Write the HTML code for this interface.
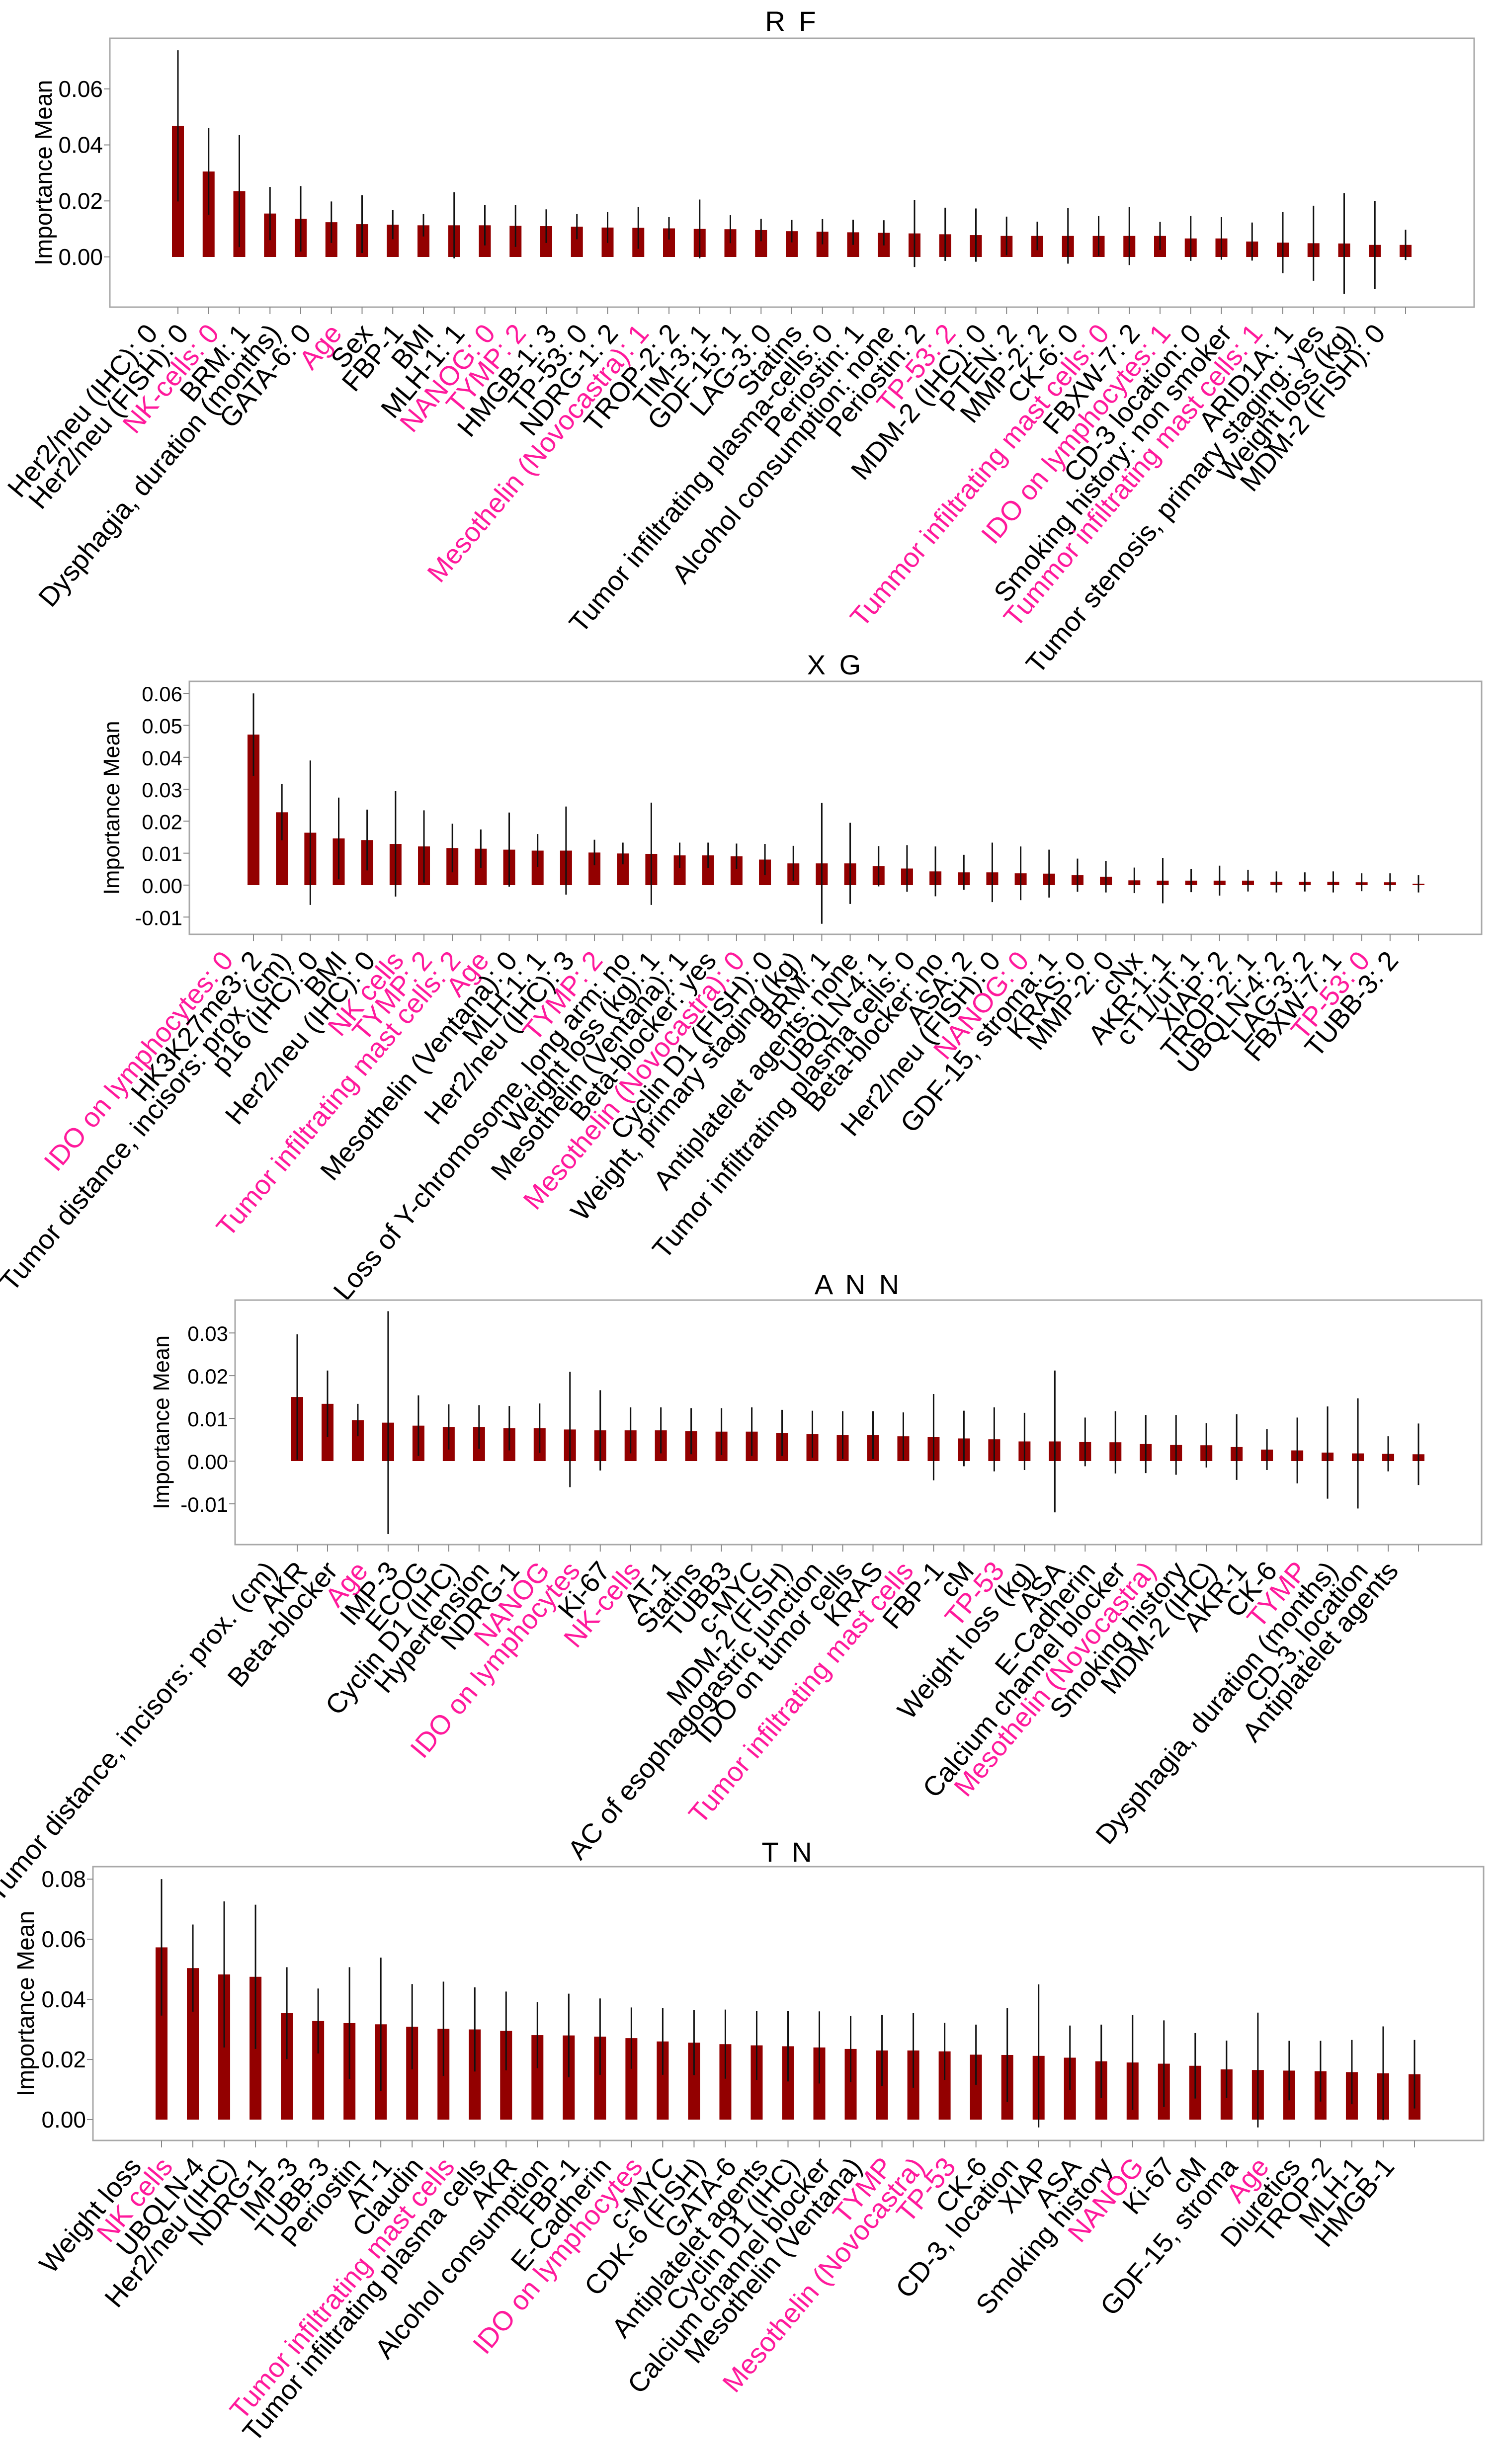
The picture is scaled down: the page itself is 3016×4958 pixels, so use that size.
<!DOCTYPE html>
<html><head><meta charset="utf-8">
<style>
html,body{margin:0;padding:0;background:#fff;}
svg{display:block;font-family:"Liberation Sans",Arial,sans-serif;}
</style></head>
<body>
<svg id="fig" width="3016" height="4958" viewBox="0 0 3016 4958" xmlns="http://www.w3.org/2000/svg"></svg>
<script>
// ---------- RF ----------
const rfLabels = ["Her2/neu (IHC): 0","Her2/neu (FISH): 0","NK-cells: 0","BRM: 1","Dysphagia, duration (months)","GATA-6: 0","Age","Sex","FBP-1","BMI","MLH-1: 1","NANOG: 0","TYMP: 2","HMGB-1: 3","TP-53: 0","NDRG-1: 2","Mesothelin (Novocastra): 1","TROP-2: 2","TIM-3: 1","GDF-15: 1","LAG-3: 0","Statins","Tumor infiltrating plasma-cells: 0","Periostin: 1","Alcohol consumption: none","Periostin: 2","TP-53: 2","MDM-2 (IHC): 0","PTEN: 2","MMP-2: 2","CK-6: 0","Tummor infiltrating mast cells: 0","FBXW-7: 2","IDO on lymphocytes: 1","CD-3 location: 0","Smoking history: non smoker","Tummor infiltrating mast cells: 1","ARID1A: 1","Tumor stenosis, primary staging: yes","Weight loss (kg)","MDM-2 (FISH): 0"];
const rfValues = [0.0468,0.0305,0.0235,0.0155,0.0136,0.0124,0.0117,0.0115,0.0113,0.0113,0.0113,0.0111,0.0110,0.0108,0.0105,0.0104,0.0102,0.0100,0.0099,0.0096,0.0092,0.0090,0.0088,0.0086,0.0084,0.0081,0.0078,0.0075,0.0075,0.0075,0.0075,0.0075,0.0075,0.0066,0.0066,0.0055,0.0051,0.0049,0.0048,0.0043,0.0043];
const rfErrors = [0.0270,0.0155,0.0200,0.0095,0.0117,0.0074,0.0103,0.0052,0.0040,0.0118,0.0072,0.0075,0.0060,0.0045,0.0055,0.0075,0.0040,0.0105,0.0050,0.0040,0.0040,0.0045,0.0045,0.0045,0.0120,0.0095,0.0095,0.0069,0.0051,0.0099,0.0071,0.0104,0.0050,0.0080,0.0076,0.0068,0.0109,0.0134,0.0180,0.0157,0.0054];
const rfHighlighted = ["NK-cells: 0","Age","NANOG: 0","TYMP: 2","Mesothelin (Novocastra): 1","TP-53: 2","Tummor infiltrating mast cells: 0","IDO on lymphocytes: 1","Tummor infiltrating mast cells: 1"];
const rfTicks = [0.00,0.02,0.04,0.06];
const rfTickLabels = ["0.00","0.02","0.04","0.06"];

// ---------- XG ----------
const xgLabels = ["IDO on lymphocytes: 0","HK3K27me3: 2","Tumor distance, incisors: prox. (cm)","p16 (IHC): 0","BMI","Her2/neu (IHC): 0","NK cells","TYMP: 2","Tumor infiltrating mast cells: 2","Age","Mesothelin (Ventana): 0","MLH-1: 1","Her2/neu (IHC): 3","TYMP: 2 ","Loss of Y-chromosome, long arm: no","Weight loss (kg): 1","Mesothelin (Ventana): 1","Beta-blocker: yes","Mesothelin (Novocastra): 0","Cyclin D1 (FISH): 0","Weight, primary staging (kg)","BRM: 1","Antiplatelet agents: none","UBQLN-4: 1","Tumor infiltrating plasma cells: 0","Beta-blocker: no","ASA: 2","Her2/neu (FISH): 0","NANOG: 0","GDF-15, stroma: 1","KRAS: 0","MMP-2: 0","cNx","AKR-1: 1","cT1/uT: 1","XIAP: 2","TROP-2: 1","UBQLN-4: 2","LAG-3: 2","FBXW-7: 1","TP-53: 0","TUBB-3: 2"];
const xgValues = [0.0471,0.0228,0.0164,0.0146,0.0141,0.0129,0.0121,0.0116,0.0114,0.0111,0.0108,0.0108,0.0102,0.0099,0.0098,0.0093,0.0093,0.0090,0.0080,0.0068,0.0068,0.0068,0.0059,0.0052,0.0043,0.0040,0.0040,0.0037,0.0036,0.0031,0.0026,0.0015,0.0014,0.0014,0.0014,0.0014,0.0010,0.0010,0.0010,0.0009,0.0009,0.0004];
const xgErrors = [0.0129,0.0088,0.0226,0.0128,0.0095,0.0165,0.0113,0.0076,0.0060,0.0116,0.0052,0.0138,0.0040,0.0034,0.0160,0.0040,0.0040,0.0040,0.0049,0.0055,0.0189,0.0127,0.0063,0.0073,0.0078,0.0055,0.0093,0.0084,0.0075,0.0052,0.0049,0.0040,0.0071,0.0036,0.0047,0.0034,0.0033,0.0030,0.0033,0.0028,0.0028,0.0027];
const xgHighlighted = ["IDO on lymphocytes: 0","NK cells","TYMP: 2","Tumor infiltrating mast cells: 2","Age","TYMP: 2 ","Mesothelin (Novocastra): 0","NANOG: 0","TP-53: 0"];
const xgTicks = [-0.01,0.00,0.01,0.02,0.03,0.04,0.05,0.06];
const xgTickLabels = ["-0.01","0.00","0.01","0.02","0.03","0.04","0.05","0.06"];

// ---------- ANN ----------
const annLabels = ["Tumor distance, incisors: prox. (cm)","AKR","Beta-blocker","Age","IMP-3","ECOG","Cyclin D1 (IHC)","Hypertension","NDRG-1","NANOG","IDO on lymphocytes","Ki-67","NK-cells","AT-1","Statins","TUBB3","c-MYC","MDM-2 (FISH)","AC of esophagogastric junction","IDO on tumor cells","KRAS","Tumor infiltrating mast cells","FBP-1","cM","TP-53","Weight loss (kg)","ASA","E-Cadherin","Calcium channel blocker","Mesothelin (Novocastra)","Smoking history","MDM-2 (IHC)","AKR-1","CK-6","TYMP","Dysphagia, duration (months)","CD-3, location","Antiplatelet agents"];
const annValues = [0.0150,0.0134,0.0096,0.0090,0.0083,0.0080,0.0080,0.0077,0.0077,0.0074,0.0072,0.0072,0.0072,0.0070,0.0069,0.0069,0.0066,0.0063,0.0061,0.0061,0.0058,0.0056,0.0053,0.0051,0.0046,0.0046,0.0045,0.0044,0.0040,0.0038,0.0037,0.0033,0.0027,0.0025,0.0020,0.0018,0.0017,0.0016];
const annErrors = [0.0147,0.0078,0.0038,0.0261,0.0071,0.0053,0.0051,0.0052,0.0058,0.0135,0.0094,0.0054,0.0054,0.0054,0.0055,0.0057,0.0054,0.0055,0.0056,0.0056,0.0056,0.0101,0.0065,0.0075,0.0067,0.0166,0.0057,0.0073,0.0068,0.0070,0.0052,0.0077,0.0048,0.0077,0.0108,0.0129,0.0041,0.0072];
const annHighlighted = ["Age","NANOG","IDO on lymphocytes","NK-cells","Tumor infiltrating mast cells","TP-53","Mesothelin (Novocastra)","TYMP"];
const annTicks = [-0.01,0.00,0.01,0.02,0.03];
const annTickLabels = ["-0.01","0.00","0.01","0.02","0.03"];

// ---------- TN ----------
const tnLabels = ["Weight loss","NK cells","UBQLN-4","Her2/neu (IHC)","NDRG-1","IMP-3","TUBB-3","Periostin","AT-1","Claudin","Tumor infiltrating mast cells","Tumor infiltrating plasma cells","AKR","Alcohol consumption","FBP-1","E-Cadherin","IDO on lymphocytes","c-MYC","CDK-6 (FISH)","GATA-6","Antiplatelet agents","Cyclin D1 (IHC)","Calcium channel blocker","Mesothelin (Ventana)","TYMP","Mesothelin (Novocastra)","TP-53","CK-6","CD-3, location","XIAP","ASA","Smoking history","NANOG","Ki-67","cM","GDF-15, stroma","Age","Diuretics","TROP-2","MLH-1","HMGB-1"];
const tnValues = [0.0573,0.0504,0.0483,0.0475,0.0354,0.0328,0.0321,0.0317,0.0309,0.0302,0.0300,0.0295,0.0281,0.0280,0.0276,0.0271,0.0260,0.0256,0.0251,0.0247,0.0244,0.0240,0.0235,0.0230,0.0230,0.0227,0.0216,0.0215,0.0212,0.0206,0.0194,0.0190,0.0186,0.0179,0.0167,0.0165,0.0163,0.0161,0.0158,0.0154,0.0151];
const tnErrors = [0.0227,0.0145,0.0243,0.0240,0.0153,0.0108,0.0186,0.0222,0.0142,0.0157,0.0140,0.0131,0.0110,0.0139,0.0127,0.0102,0.0111,0.0108,0.0115,0.0115,0.0117,0.0120,0.0110,0.0118,0.0124,0.0095,0.0100,0.0156,0.0238,0.0107,0.0122,0.0158,0.0144,0.0109,0.0096,0.0191,0.0099,0.0101,0.0107,0.0156,0.0114];
const tnHighlighted = ["NK cells","Tumor infiltrating mast cells","IDO on lymphocytes","TYMP","Mesothelin (Novocastra)","TP-53","NANOG","Age"];
const tnTicks = [0.00,0.02,0.04,0.06,0.08];
const tnTickLabels = ["0.00","0.02","0.04","0.06","0.08"];

const NS = "http://www.w3.org/2000/svg";
const svg = document.getElementById("fig");
function mk(tag, attrs, parent){
  const e = document.createElementNS(NS, tag);
  for (const k in attrs) e.setAttribute(k, attrs[k]);
  (parent||svg).appendChild(e);
  return e;
}

function drawPanel(p, labels, values, errors, highlighted, ticks, tickLabels){
  const g = mk("g", {});
  
  
  const yScale = v => p.y0 - v * p.pxPerUnit;
  const n = labels.length;
  const xScale = i => p.x1 + i * (p.xN - p.x1) / (n - 1);

  const fr = mk("rect", {x:p.L, y:p.T, width:p.R-p.L, height:p.B-p.T, fill:"#fff", stroke:"#a8a8a8", "stroke-width":3}, g);
  
  

  const t = mk("text", {x:(p.L+p.R)/2, y:p.titleY, "text-anchor":"middle", "font-size":p.titleSize, "letter-spacing":"6", fill:"#000"}, g);
  t.textContent = p.title;
  
  

  const yl = mk("text", {x:0, y:0, "text-anchor":"middle", "font-size":p.ylabSize, fill:"#000", transform:`translate(${p.ylabX},${(p.T+p.B)/2}) rotate(-90)`}, g);
  yl.textContent = "Importance Mean";
  
  

  ticks.forEach((v, i) => {
    const y = yScale(v);
    const tk = mk("line", {x1:p.L-12, x2:p.L, y1:y, y2:y, stroke:"#888", "stroke-width":2}, g);
    
    
    const tl = mk("text", {x:p.L-14, y:y+16, "text-anchor":"end", "font-size":p.tickSize, fill:"#000"}, g);
    tl.textContent = tickLabels[i];
    
    
  });

  for (let i = 0; i < n; i++){
    const cx = xScale(i);
    const v = values[i];
    const yTop = yScale(Math.max(v,0)), yBot = yScale(Math.min(v,0));
    const bar = mk("rect", {x:cx - p.barW/2, y:yTop, width:p.barW, height:Math.max(yBot-yTop,1), fill:"#930000"}, g);
    
    
    const er = mk("line", {x1:cx, x2:cx, y1:yScale(v+errors[i]), y2:yScale(v-errors[i]), stroke:"#111", "stroke-width":3}, g);
    
    
    const xt = mk("line", {x1:cx, x2:cx, y1:p.B, y2:p.B+14, stroke:"#888", "stroke-width":2}, g);
    
    
    const ax = cx - 38, ay = p.B + 54;
    const lb = mk("text", {x:0, y:0, "text-anchor":"end", "font-size":p.labSize,
      fill: highlighted.includes(labels[i]) ? "#ff1a9c" : "#000",
      transform:`translate(${ax},${ay}) rotate(-50)`}, g);
    lb.textContent = labels[i].trim();
    
    
  }
}

drawPanel({name:"rf", title:"R F", L:221, R:2966, T:77, B:618, y0:517, pxPerUnit:5635,
  x1:358, xN:2828, barW:24, titleY:62, titleSize:56, ylabX:104, ylabSize:48, tickSize:46, labSize:55},
  rfLabels, rfValues, rfErrors, rfHighlighted, rfTicks, rfTickLabels);

drawPanel({name:"xg", title:"X G", L:381, R:2981, T:1371, B:1880, y0:1781, pxPerUnit:6430,
  x1:510, xN:2854, barW:24, titleY:1357, titleSize:56, ylabX:240, ylabSize:45, tickSize:42, labSize:55},
  xgLabels, xgValues, xgErrors, xgHighlighted, xgTicks, xgTickLabels);

drawPanel({name:"ann", title:"A N N", L:473, R:2981, T:2616, B:3108, y0:2940, pxPerUnit:8595,
  x1:598, xN:2854, barW:24, titleY:2604, titleSize:56, ylabX:340, ylabSize:45, tickSize:42, labSize:55},
  annLabels, annValues, annErrors, annHighlighted, annTicks, annTickLabels);

drawPanel({name:"tn", title:"T N", L:187, R:2985, T:3756, B:4307, y0:4265, pxPerUnit:6048,
  x1:325, xN:2846, barW:24, titleY:3746, titleSize:56, ylabX:68, ylabSize:48, tickSize:46, labSize:55},
  tnLabels, tnValues, tnErrors, tnHighlighted, tnTicks, tnTickLabels);
</script>
</body></html>
